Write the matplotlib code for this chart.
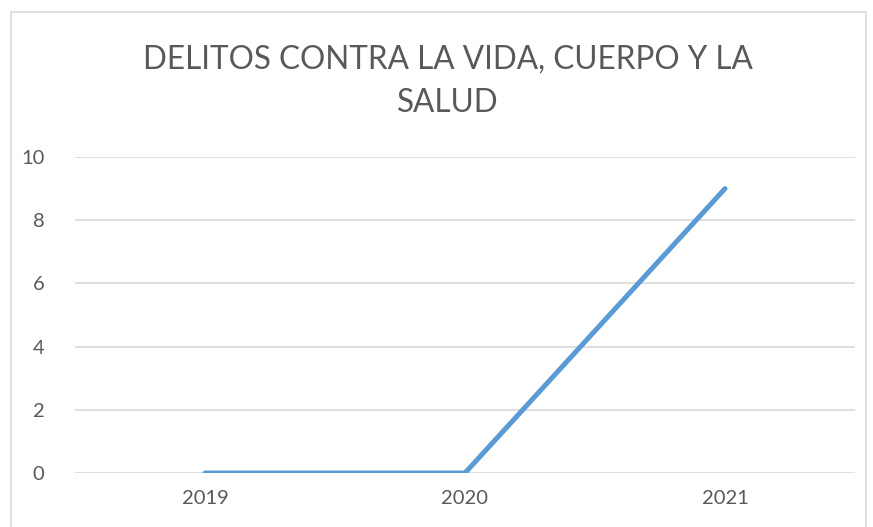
import matplotlib.pyplot as plt
from matplotlib.patches import Rectangle

plt.rcParams['font.family'] = ['Lato', 'DejaVu Sans']

years = ['2019', '2020', '2021']
delitos = [0, 0, 9]
yticks = [0, 2, 4, 6, 8, 10]

fig = plt.figure(figsize=(8.73, 5.27), dpi=100)
ax = fig.add_axes([75/873, 54/527, 780/873, 316/527])

ax.plot(range(len(years)), delitos, color='#5b9bd5', linewidth=3.6, solid_capstyle='round')

ax.set_xlim(-0.5, len(years) - 0.5)
ax.set_ylim(0, 10)
ax.set_xticks(range(len(years)))
ax.set_xticklabels(years)
ax.set_yticks(yticks)
ax.grid(axis='y', color='#d9d9d9', linewidth=1.2)
ax.set_axisbelow(True)
for s in ax.spines.values():
    s.set_visible(False)
ax.tick_params(length=0, labelsize=14.5, labelcolor='#595959')
ax.tick_params(axis='y', pad=22)
ax.tick_params(axis='x', pad=12)

fig.text(0.513, 1 - 81/527, 'DELITOS CONTRA LA VIDA, CUERPO Y LA\nSALUD',
         ha='center', va='center', fontsize=22.7, color='#595959', linespacing=1.55)

fig.patches.append(Rectangle((11/873, -0.05), 855/873, 1.05 - 12/527,
                             transform=fig.transFigure, fill=False,
                             edgecolor='#d9d9d9', linewidth=1.2))

fig.savefig('out.png', dpi=100)
